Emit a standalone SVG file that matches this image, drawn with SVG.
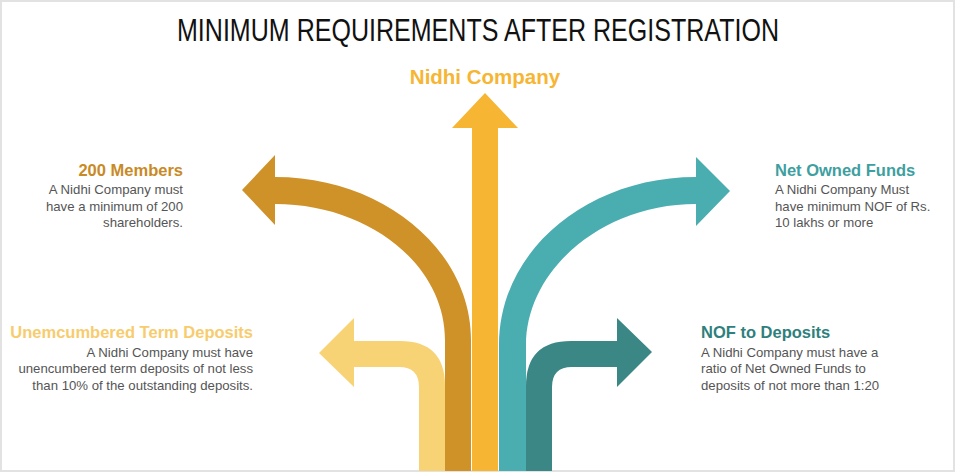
<svg xmlns="http://www.w3.org/2000/svg" width="956" height="473" viewBox="0 0 956 473">
<style>
.title{font-family:"Liberation Sans",Arial,sans-serif;font-size:31px;fill:#111}
.head{font-family:"Liberation Sans",Arial,sans-serif;font-weight:bold;font-size:16.5px}
.body{font-family:"Liberation Sans",Arial,sans-serif;font-size:13.2px;fill:#555}
.r{text-anchor:end}
</style>
<rect x="0" y="0" width="956" height="473" fill="#ffffff"/>
<rect x="1" y="1" width="953" height="470" fill="none" stroke="#e2e2e2" stroke-width="2"/>
<text class="title" x="478" y="41" text-anchor="middle" textLength="602" lengthAdjust="spacingAndGlyphs">MINIMUM REQUIREMENTS AFTER REGISTRATION</text>
<g id="connectors">
<path id="arrow-light" fill="#F8D375" d="M419,471 L419,387 Q419,367 399,367 L354,367 L354,387 L319,353 L354,318 L354,341 L400,341 Q445,341 445,386 L445,471 Z"/>
<path id="arrow-gold" fill="#CF9229" d="M445,471 L445,340 C445,265 369,204 275,204 L275,225 L242,190 L275,155 L275,177 C383,177 471,250 471,340 L471,471 Z"/>
<path id="arrow-yellow" fill="#F6B533" d="M472,471 L472,128 L452,128 L485,93 L518,128 L498,128 L498,471 Z"/>
<path id="arrow-teal" fill="#4AADB0" d="M499,471 L499,345 C499,250 588,177 696,177 L696,157 L730,191 L696,226 L696,204 C602,204 526,270 526,345 L526,471 Z"/>
<path id="arrow-darkteal" fill="#3A8785" d="M526,471 L526,386 Q526,341 571,341 L617,341 L617,318 L652,352 L617,387 L617,367 L572,367 Q552,367 552,387 L552,471 Z"/>
</g>
<g id="node-nidhi">
<text class="head" x="485" y="84" text-anchor="middle" style="font-size:20.5px;fill:#F6B533">Nidhi Company</text>
</g>
<g id="node-200-members">
<text class="head r" x="183" y="176" fill="#C98A26">200 Members</text>
<text class="body r" x="183" y="194">A Nidhi Company must</text>
<text class="body r" x="183" y="211">have a minimum of 200</text>
<text class="body r" x="183" y="227">shareholders.</text>
</g>
<g id="node-unencumbered">
<text class="head r" x="253" y="338" fill="#F7CC6E">Unemcumbered Term Deposits</text>
<text class="body r" x="253" y="357">A Nidhi Company must have</text>
<text class="body r" x="253" y="373">unencumbered term deposits of not less</text>
<text class="body r" x="253" y="390">than 10% of the outstanding deposits.</text>
</g>
<g id="node-nof">
<text class="head" x="775" y="176" fill="#3E9FA1">Net Owned Funds</text>
<text class="body" x="775" y="194">A Nidhi Company Must</text>
<text class="body" x="775" y="211">have minimum NOF of Rs.</text>
<text class="body" x="775" y="227">10 lakhs or more</text>
</g>
<g id="node-nof-deposits">
<text class="head" x="701" y="338" fill="#2F7F7D">NOF to Deposits</text>
<text class="body" x="701" y="357">A Nidhi Company must have a</text>
<text class="body" x="701" y="373">ratio of Net Owned Funds to</text>
<text class="body" x="701" y="390">deposits of not more than 1:20</text>
</g>
</svg>
